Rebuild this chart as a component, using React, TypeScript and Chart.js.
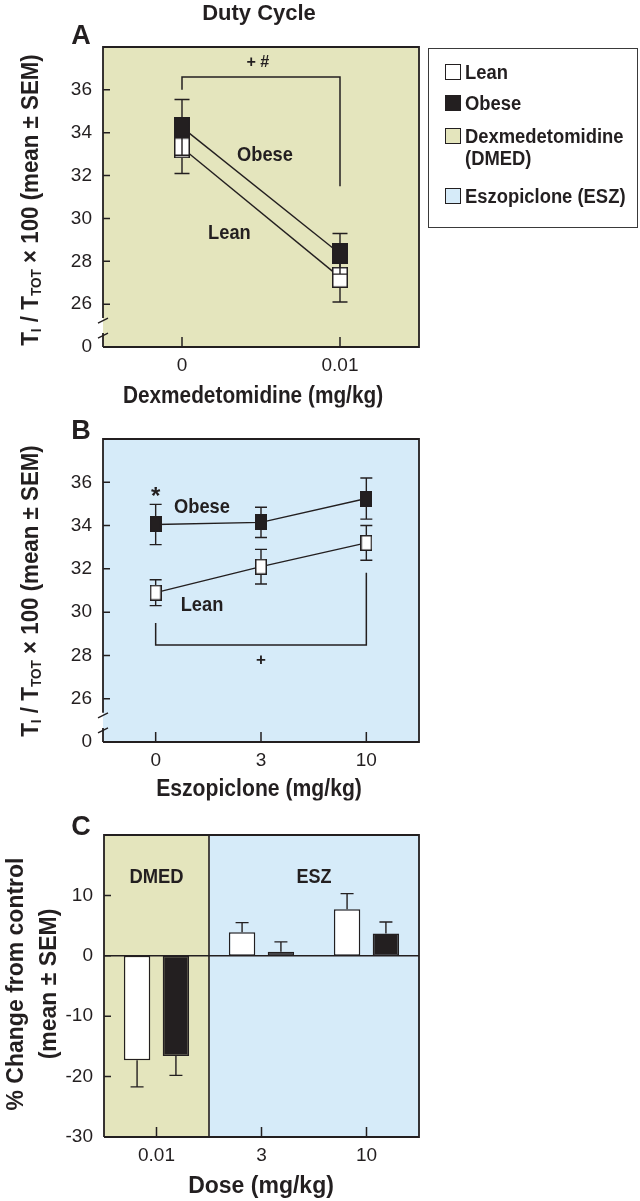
import React, { useEffect, useRef } from 'react';
import { Chart, registerables } from 'chart.js';
Chart.register(...registerables);

const FONT = "'Liberation Sans', Arial, Helvetica, sans-serif";
const INK = '#231f20';
const KHAKI = '#e4e5bd';
const BLUE = '#d6ebf9';

// Panel A (Dexmedetomidine)
const doseA = ['0', '0.01'];
const obeseA = [34.25, 28.35];
const obeseASem = [1.3, 0.95];
const leanA = [33.3, 27.25];
const leanASem = [1.2, 1.15];

// Panel B (Eszopiclone)
const doseB = ['0', '3', '10'];
const obeseB = [34.05, 34.15, 35.25];
const obeseBSem = [0.93, 0.7, 0.95];
const leanB = [30.9, 32.1, 33.2];
const leanBSem = [0.6, 0.8, 0.8];

// Shared y ticks for A and B (24 stands for the broken-axis "0")
const lineTicks = [24, 26, 28, 30, 32, 34, 36];
const lineTickLabels = ['0', '26', '28', '30', '32', '34', '36'];

// Panel C (% change)
const doseC = ['0.01', '3', '10'];
const leanC = [-17.3, 3.9, 7.7];
const leanCSem = [4.4, 1.6, 2.6];
const obeseC = [-16.6, 0.65, 3.7];
const obeseCSem = [3.2, 1.65, 1.9];
const barTicks = [-30, -20, -10, 0, 10];

function makeMarker(w: number, h: number, fill: string) {
  const c = document.createElement('canvas');
  c.width = w;
  c.height = h;
  const g = c.getContext('2d')!;
  g.fillStyle = INK;
  g.fillRect(0, 0, w, h);
  g.fillStyle = fill;
  g.fillRect(1.5, 1.5, w - 3, h - 3);
  return c;
}

function drawErr(ctx: CanvasRenderingContext2D, x: number, y1: number, y2: number, cap: number, capTop: boolean, capBottom: boolean) {
  ctx.beginPath();
  ctx.moveTo(x, y1);
  ctx.lineTo(x, y2);
  if (capTop) {
    ctx.moveTo(x - cap / 2, y1);
    ctx.lineTo(x + cap / 2, y1);
  }
  if (capBottom) {
    ctx.moveTo(x - cap / 2, y2);
    ctx.lineTo(x + cap / 2, y2);
  }
  ctx.stroke();
}

function text(ctx: CanvasRenderingContext2D, s: string, x: number, y: number, size: number, sx = 1) {
  ctx.save();
  ctx.fillStyle = INK;
  ctx.font = `bold ${size}px ${FONT}`;
  ctx.textAlign = 'center';
  ctx.textBaseline = 'middle';
  ctx.translate(x, y);
  ctx.scale(sx, 1);
  ctx.fillText(s, 0, 0);
  ctx.restore();
}

function frame(chart: any, breakAxis: boolean, yTickVals: number[]) {
  const ctx = chart.ctx as CanvasRenderingContext2D;
  const { left, right, top, bottom } = chart.chartArea;
  const xs = chart.scales.x;
  const ys = chart.scales.y;
  ctx.save();
  ctx.strokeStyle = INK;
  ctx.lineWidth = 1.8;
  ctx.beginPath();
  ctx.moveTo(left, bottom);
  ctx.lineTo(right, bottom);
  ctx.lineTo(right, top);
  ctx.lineTo(left, top);
  if (breakAxis) {
    const g1 = ys.getPixelForValue(25.35);
    const g2 = ys.getPixelForValue(24.65);
    ctx.lineTo(left, g1);
    ctx.moveTo(left, g2);
    ctx.lineTo(left, bottom);
    ctx.stroke();
    ctx.lineWidth = 1.4;
    ctx.beginPath();
    ctx.moveTo(left - 5, g1 + 5);
    ctx.lineTo(left + 5, g1);
    ctx.moveTo(left - 5, g2 + 5);
    ctx.lineTo(left + 5, g2);
    ctx.stroke();
  } else {
    ctx.lineTo(left, bottom);
    ctx.stroke();
  }
  ctx.lineWidth = 1.5;
  ctx.beginPath();
  yTickVals.forEach((v) => {
    const y = ys.getPixelForValue(v);
    ctx.moveTo(left, y);
    ctx.lineTo(left + 7, y);
  });
  chart.data.labels.forEach((_: any, i: number) => {
    const x = xs.getPixelForValue(i);
    ctx.moveTo(x, bottom);
    ctx.lineTo(x, bottom - 10);
  });
  ctx.stroke();
  ctx.restore();
}

function linePlugin(bg: string, cap: number, annotate: (chart: any) => void) {
  return {
    id: 'panelLine',
    beforeDraw(chart: any) {
      const { left, right, top, bottom } = chart.chartArea;
      const ctx = chart.ctx;
      ctx.save();
      ctx.fillStyle = bg;
      ctx.fillRect(left, top, right - left, bottom - top);
      ctx.restore();
    },
    beforeDatasetDraw(chart: any, args: any) {
      const ds = chart.data.datasets[args.index];
      const ys = chart.scales.y;
      const ctx = chart.ctx as CanvasRenderingContext2D;
      ctx.save();
      ctx.strokeStyle = INK;
      ctx.lineWidth = 1.4;
      args.meta.data.forEach((pt: any, i: number) => {
        const v = ds.data[i];
        const s = ds.sem[i];
        drawErr(ctx, pt.x, ys.getPixelForValue(v + s), ys.getPixelForValue(v - s), cap, true, true);
      });
      ctx.restore();
    },
    afterDraw(chart: any) {
      frame(chart, true, lineTicks.slice(1));
      annotate(chart);
    },
  };
}

const tickFont = { family: FONT, size: 19 };

function lineOptions(padTop: number, padBottom: number) {
  return {
    animation: false as const,
    responsive: false,
    events: [] as any[],
    layout: { padding: { top: padTop, right: 11, bottom: padBottom, left: 0 } },
    plugins: { legend: { display: false }, tooltip: { enabled: false } },
    scales: {
      x: {
        type: 'category' as const,
        offset: true,
        grid: { display: false },
        border: { display: false },
        ticks: { color: INK, font: tickFont, padding: -1 },
        afterFit(s: any) { s.height = 30; },
      },
      y: {
        min: 24,
        max: 38,
        grid: { display: false },
        border: { display: false },
        afterBuildTicks(s: any) { s.ticks = lineTicks.map((v) => ({ value: v })); },
        ticks: {
          color: INK,
          font: tickFont,
          padding: 3,
          callback: (v: any) => lineTickLabels[lineTicks.indexOf(Number(v))] ?? '',
        },
        afterFit(s: any) { s.width = 103; },
      },
    },
  };
}

function bracket(ctx: CanvasRenderingContext2D, pts: [number, number][]) {
  ctx.save();
  ctx.strokeStyle = INK;
  ctx.lineWidth = 1.5;
  ctx.beginPath();
  pts.forEach(([x, y], i) => (i ? ctx.lineTo(x, y) : ctx.moveTo(x, y)));
  ctx.stroke();
  ctx.restore();
}

export default function App() {
  const refA = useRef<HTMLCanvasElement>(null);
  const refB = useRef<HTMLCanvasElement>(null);
  const refC = useRef<HTMLCanvasElement>(null);

  useEffect(() => {
    const mAOpen = makeMarker(16, 21, '#ffffff');
    const mAFill = makeMarker(16, 21, INK);
    const mBOpen = makeMarker(12, 16, '#ffffff');
    const mBFill = makeMarker(12, 16, INK);

    const annotateA = (chart: any) => {
      const ctx = chart.ctx;
      const xs = chart.scales.x, ys = chart.scales.y;
      const x0 = xs.getPixelForValue(0), x1 = xs.getPixelForValue(1);
      bracket(ctx, [[x0, ys.getPixelForValue(36)], [x0, ys.getPixelForValue(36.6)], [x1, ys.getPixelForValue(36.6)], [x1, ys.getPixelForValue(31.5)]]);
      text(ctx, '+ #', xs.getPixelForValue(0.48), ys.getPixelForValue(37.27), 17, 0.95);
      text(ctx, 'Obese', xs.getPixelForValue(0.525), ys.getPixelForValue(32.96), 21, 0.87);
      text(ctx, 'Lean', xs.getPixelForValue(0.3), ys.getPixelForValue(29.32), 21, 0.87);
    };
    const annotateB = (chart: any) => {
      const ctx = chart.ctx;
      const xs = chart.scales.x, ys = chart.scales.y;
      const x0 = xs.getPixelForValue(0), x2 = xs.getPixelForValue(2);
      bracket(ctx, [[x0, ys.getPixelForValue(29.5)], [x0, ys.getPixelForValue(28.48)], [x2, ys.getPixelForValue(28.48)], [x2, ys.getPixelForValue(31.82)]]);
      text(ctx, '+', xs.getPixelForValue(1), ys.getPixelForValue(27.76), 17);
      text(ctx, '*', xs.getPixelForValue(0), ys.getPixelForValue(35.3), 24);
      text(ctx, 'Obese', xs.getPixelForValue(0.44), ys.getPixelForValue(34.86), 21, 0.87);
      text(ctx, 'Lean', xs.getPixelForValue(0.44), ys.getPixelForValue(30.33), 21, 0.87);
    };

    const chartA = new Chart(refA.current!, {
      type: 'line',
      data: {
        labels: doseA,
        datasets: [
          { label: 'Obese', data: obeseA, sem: obeseASem, borderColor: INK, borderWidth: 1.4, pointStyle: mAFill, pointRadius: 8 } as any,
          { label: 'Lean', data: leanA, sem: leanASem, borderColor: INK, borderWidth: 1.4, pointStyle: mAOpen, pointRadius: 8 } as any,
        ],
      },
      options: lineOptions(47, 3) as any,
      plugins: [linePlugin(KHAKI, 15, annotateA)],
    });

    const chartB = new Chart(refB.current!, {
      type: 'line',
      data: {
        labels: doseB,
        datasets: [
          { label: 'Obese', data: obeseB, sem: obeseBSem, borderColor: INK, borderWidth: 1.4, pointStyle: mBFill, pointRadius: 7 } as any,
          { label: 'Lean', data: leanB, sem: leanBSem, borderColor: INK, borderWidth: 1.4, pointStyle: mBOpen, pointRadius: 7 } as any,
        ],
      },
      options: lineOptions(39, 3) as any,
      plugins: [linePlugin(BLUE, 12, annotateB)],
    });

    const barPlugin = {
      id: 'panelBar',
      beforeDraw(chart: any) {
        const { left, right, top, bottom } = chart.chartArea;
        const ctx = chart.ctx;
        const split = chart.scales.x.getPixelForValue(0.5);
        ctx.save();
        ctx.fillStyle = KHAKI;
        ctx.fillRect(left, top, split - left, bottom - top);
        ctx.fillStyle = BLUE;
        ctx.fillRect(split, top, right - split, bottom - top);
        ctx.restore();
      },
      afterDatasetsDraw(chart: any) {
        const ctx = chart.ctx as CanvasRenderingContext2D;
        const ys = chart.scales.y;
        const xs = chart.scales.x;
        const { left, right, top, bottom } = chart.chartArea;
        ctx.save();
        ctx.strokeStyle = INK;
        ctx.lineWidth = 1.4;
        chart.data.datasets.forEach((ds: any, di: number) => {
          const meta = chart.getDatasetMeta(di);
          meta.data.forEach((bar: any, i: number) => {
            const v = ds.data[i];
            const end = v < 0 ? v - ds.sem[i] : v + ds.sem[i];
            const y1 = ys.getPixelForValue(v);
            const y2 = ys.getPixelForValue(end);
            drawErr(ctx, bar.x, y2, y1, 13, true, false);
          });
        });
        ctx.lineWidth = 1.6;
        ctx.beginPath();
        const y0 = ys.getPixelForValue(0);
        ctx.moveTo(left, y0);
        ctx.lineTo(right, y0);
        const split = xs.getPixelForValue(0.5);
        ctx.moveTo(split, top);
        ctx.lineTo(split, bottom);
        ctx.stroke();
        ctx.restore();
      },
      afterDraw(chart: any) {
        frame(chart, false, barTicks.slice(1));
        const ctx = chart.ctx;
        const xs = chart.scales.x, ys = chart.scales.y;
        text(ctx, 'DMED', xs.getPixelForValue(0), ys.getPixelForValue(12.9), 20, 0.92);
        text(ctx, 'ESZ', xs.getPixelForValue(1.5), ys.getPixelForValue(12.9), 20, 0.9);
      },
    };

    const chartC = new Chart(refC.current!, {
      type: 'bar',
      data: {
        labels: doseC,
        datasets: [
          { label: 'Lean', data: leanC, sem: leanCSem, backgroundColor: '#ffffff', borderColor: INK, borderWidth: 1.5, borderSkipped: false, categoryPercentage: 0.74, barPercentage: 0.68 } as any,
          { label: 'Obese', data: obeseC, sem: obeseCSem, backgroundColor: INK, borderColor: INK, borderWidth: 1.5, borderSkipped: false, categoryPercentage: 0.74, barPercentage: 0.68 } as any,
        ],
      },
      options: {
        animation: false,
        responsive: false,
        events: [],
        layout: { padding: { top: 35, right: 11, bottom: 8, left: 0 } },
        plugins: { legend: { display: false }, tooltip: { enabled: false } },
        scales: {
          x: {
            type: 'category',
            grid: { display: false },
            border: { display: false },
            ticks: { color: INK, font: tickFont, padding: -1 },
            afterFit(s: any) { s.height = 30; },
          },
          y: {
            min: -30,
            max: 20,
            grid: { display: false },
            border: { display: false },
            afterBuildTicks(s: any) { s.ticks = barTicks.map((v) => ({ value: v })); },
            ticks: { color: INK, font: tickFont, padding: 3 },
            afterFit(s: any) { s.width = 104; },
          },
        },
      } as any,
      plugins: [barPlugin],
    });

    return () => {
      chartA.destroy();
      chartB.destroy();
      chartC.destroy();
    };
  }, []);

  const bold = (size: number): React.CSSProperties => ({
    position: 'absolute',
    font: `bold ${size}px ${FONT}`,
    color: INK,
    whiteSpace: 'nowrap',
    lineHeight: 1,
  });
  const centered = (x: number, y: number, size: number, sx = 1): React.CSSProperties => ({
    ...bold(size),
    left: x,
    top: y,
    transform: `translate(-50%, -50%) scaleX(${sx})`,
  });
  const vertical = (x: number, y: number, size: number, sx = 1): React.CSSProperties => ({
    ...bold(size),
    left: x,
    top: y,
    transform: `translate(-50%, -50%) rotate(-90deg) scaleX(${sx})`,
  });
  const sub: React.CSSProperties = { fontSize: 14, verticalAlign: '-0.22em', lineHeight: 1 };
  const yTitle = (
    <>
      T<span style={sub}>I</span> / T<span style={sub}>TOT</span> × 100 (mean ± SEM)
    </>
  );
  const swatch = (top: number, color: string): React.CSSProperties => ({
    position: 'absolute',
    left: 445,
    top,
    width: 16,
    height: 16,
    boxSizing: 'border-box',
    border: `1.5px solid ${INK}`,
    background: color,
  });
  const legendText = (cy: number): React.CSSProperties => ({
    ...bold(20),
    left: 465,
    top: cy - 11,
    lineHeight: '22px',
    transformOrigin: 'left center',
    transform: 'scaleX(0.92)',
  });

  return (
    <div style={{ position: 'fixed', left: 0, top: 0, width: 640, height: 1201, background: '#fff', overflow: 'hidden' }}>
      <canvas ref={refA} width={430} height={380} style={{ position: 'absolute', left: 0, top: 0 }} />
      <canvas ref={refB} width={430} height={375} style={{ position: 'absolute', left: 0, top: 400 }} />
      <canvas ref={refC} width={430} height={375} style={{ position: 'absolute', left: 0, top: 800 }} />

      <div style={centered(259, 13, 22)}>Duty Cycle</div>
      <div style={centered(81, 35, 27)}>A</div>
      <div style={centered(81, 430, 27)}>B</div>
      <div style={centered(81, 826, 27)}>C</div>

      <div style={vertical(31, 200, 23, 0.97)}>{yTitle}</div>
      <div style={vertical(31, 591, 23, 0.97)}>{yTitle}</div>
      <div style={vertical(15, 984, 23)}>% Change from control</div>
      <div style={vertical(48, 984, 23)}>(mean ± SEM)</div>

      <div style={centered(253, 395, 23, 0.905)}>Dexmedetomidine (mg/kg)</div>
      <div style={centered(259, 788, 23, 0.92)}>Eszopiclone (mg/kg)</div>
      <div style={centered(261, 1185, 23)}>Dose (mg/kg)</div>

      <div style={{ position: 'absolute', left: 428, top: 48, width: 210, height: 180, boxSizing: 'border-box', border: '1.5px solid #3a3a3a' }} />
      <div style={swatch(64, '#ffffff')} />
      <div style={legendText(71.5)}>Lean</div>
      <div style={swatch(95, INK)} />
      <div style={legendText(103)}>Obese</div>
      <div style={swatch(128, KHAKI)} />
      <div style={legendText(135.5)}>Dexmedetomidine</div>
      <div style={legendText(158)}>(DMED)</div>
      <div style={swatch(188, BLUE)} />
      <div style={legendText(195.5)}>Eszopiclone (ESZ)</div>
    </div>
  );
}
